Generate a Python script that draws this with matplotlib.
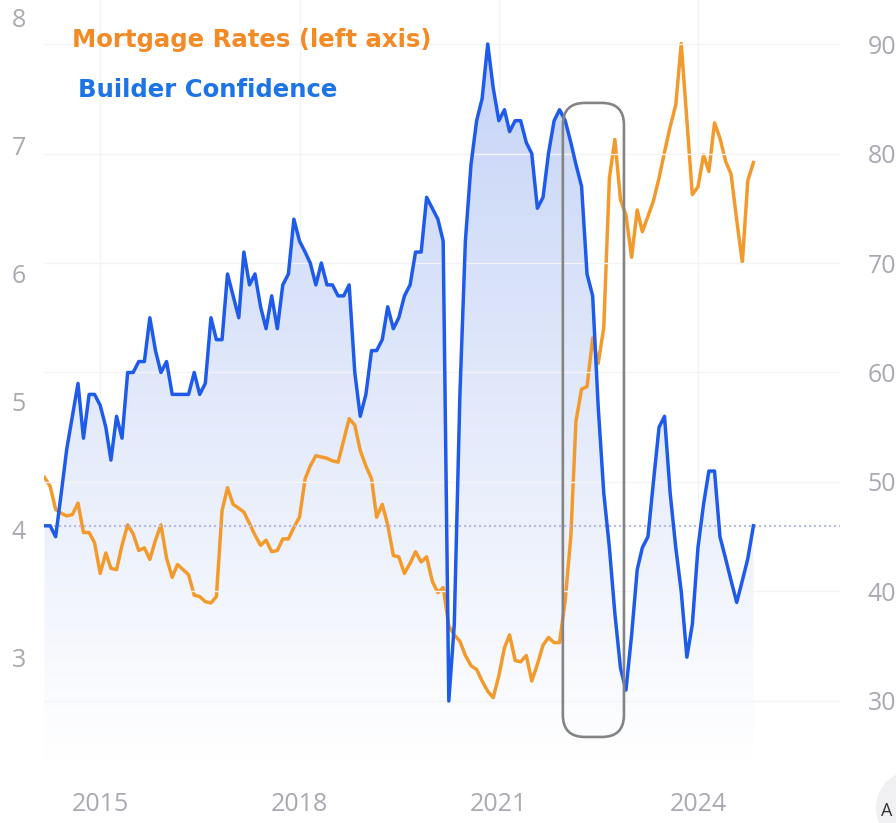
import numpy as np
import pandas as pd
import matplotlib
matplotlib.use("Agg")
import matplotlib.pyplot as plt
import matplotlib.dates as mdates
from matplotlib.patches import FancyBboxPatch, Circle, Polygon
from matplotlib.transforms import IdentityTransform
import matplotlib.colors as mcolors

# ---------------- data ----------------
months = pd.date_range("2014-03-01", "2024-11-01", freq="MS")

mortgage_rates = [
    4.41, 4.34, 4.16, 4.13, 4.11, 4.12, 4.21, 3.98, 3.98, 3.90,                # 2014
    3.66, 3.82, 3.70, 3.69, 3.88, 4.04, 3.97, 3.84, 3.86, 3.77, 3.92, 4.04,    # 2015
    3.78, 3.63, 3.73, 3.69, 3.65, 3.49, 3.48, 3.44, 3.43, 3.48, 4.15, 4.33,    # 2016
    4.20, 4.17, 4.14, 4.05, 3.96, 3.88, 3.92, 3.83, 3.84, 3.93, 3.93, 4.02,    # 2017
    4.10, 4.40, 4.50, 4.58, 4.57, 4.56, 4.54, 4.53, 4.70, 4.87, 4.82, 4.62,    # 2018
    4.50, 4.40, 4.10, 4.20, 4.04, 3.80, 3.79, 3.66, 3.74, 3.83, 3.75, 3.79,    # 2019
    3.60, 3.51, 3.55, 3.25, 3.18, 3.13, 3.02, 2.94, 2.91, 2.82, 2.74, 2.69,    # 2020
    2.86, 3.08, 3.18, 2.98, 2.97, 3.02, 2.82, 2.95, 3.10, 3.16, 3.12, 3.12,    # 2021
    3.45, 3.95, 4.85, 5.10, 5.12, 5.50, 5.30, 5.58, 6.75, 7.05, 6.58, 6.46,    # 2022
    6.13, 6.50, 6.33, 6.45, 6.57, 6.75, 6.95, 7.15, 7.32, 7.80, 7.20, 6.62,    # 2023
    6.68, 6.93, 6.80, 7.18, 7.06, 6.88, 6.78, 6.42, 6.09, 6.73, 6.87,          # 2024
]

builder_confidence = [
    46, 46, 45, 49, 53, 56, 59, 54, 58, 58,                 # 2014
    57, 55, 52, 56, 54, 60, 60, 61, 61, 65, 62, 60,         # 2015
    61, 58, 58, 58, 58, 60, 58, 59, 65, 63, 63, 69,         # 2016
    67, 65, 71, 68, 69, 66, 64, 67, 64, 68, 69, 74,         # 2017
    72, 71, 70, 68, 70, 68, 68, 67, 67, 68, 60, 56,         # 2018
    58, 62, 62, 63, 66, 64, 65, 67, 68, 71, 71, 76,         # 2019
    75, 74, 72, 30, 37, 58, 72, 79, 83, 85, 90, 86,         # 2020
    83, 84, 82, 83, 83, 81, 80, 75, 76, 80, 83, 84,         # 2021
    83, 81, 79, 77, 69, 67, 57, 49, 44, 38, 33, 31,         # 2022
    36, 42, 44, 45, 50, 55, 56, 49, 44, 40, 34, 37,         # 2023
    44, 48, 51, 51, 45, 43, 41, 39, 41, 43, 46,             # 2024
]

year_ticks = [2015, 2018, 2021, 2024]
left_ticks = [3, 4, 5, 6, 7, 8]
right_ticks = [30, 40, 50, 60, 70, 80, 90]
highlight_dates = ["2021-12-19", "2022-11-20"]
highlight_rates = [2.383, 7.336]

series_labels = ["Mortgage Rates (left axis)", "Builder Confidence"]

# ---------------- style ----------------
ORANGE = "#f39a2d"
ORANGE_TXT = "#f28a26"
BLUE = "#1f5bea"
BLUE_TXT = "#1c74e6"
TICK_C = "#a9a9b2"
W, H = 896, 823

fig = plt.figure(figsize=(W / 100, H / 100), dpi=100)
fig.patch.set_facecolor("white")

L, R, B, T = 44, 840, 760, 0
ax = fig.add_axes([L / W, (H - B) / H, (R - L) / W, (B - T) / H])
ax2 = ax.twinx()

x = mdates.date2num(months)

ax.set_xlim(mdates.date2num(pd.Timestamp("2014-02-26")),
            mdates.date2num(pd.Timestamp("2026-02-20")))
ax.set_ylim(2.203, 8.14)
ax2.set_ylim(24.61, 94.02)

for a in (ax, ax2):
    for s in a.spines.values():
        s.set_visible(False)
    a.tick_params(length=0)
ax.patch.set_visible(False)
ax2.patch.set_visible(False)

# faint grid
for yt in right_ticks:
    ax2.axhline(yt, color="#f4f4f7", lw=1.0, zorder=0)
for yr in year_ticks:
    ax.axvline(mdates.date2num(pd.Timestamp(f"{yr}-01-01")), color="#f4f4f7", lw=1.0, zorder=0)

# gradient fill under builder confidence
bottom_val = ax2.get_ylim()[0]
verts = [(x[0], bottom_val)] + list(zip(x, builder_confidence)) + [(x[-1], bottom_val)]
poly = Polygon(verts, closed=True, transform=ax2.transData, facecolor="none", edgecolor="none")
ax.add_patch(poly)
n = 256
g = np.linspace(1.0, 0.0, n)
top = np.array(mcolors.to_rgb("#c2d1f6"))
rgba = np.ones((n, 1, 4))
rgba[:, 0, :3] = 1.0 - (1.0 - top)[None, :] * g[:, None]
im = ax.imshow(rgba, extent=[0, 1, 0, 1], transform=ax.transAxes, aspect="auto",
               zorder=0.5, interpolation="bilinear")
im.set_clip_path(poly)

# mortgage rates line (left axis)
ax.plot(x, mortgage_rates, color=ORANGE, lw=2.5, zorder=2, solid_joinstyle="round")

# builder confidence line (right axis)
ax2.plot(x, builder_confidence, color=BLUE, lw=2.5, zorder=3, solid_joinstyle="round")
ax2.axhline(builder_confidence[-1], color="#b7bbe0", lw=1.5, ls=(0, (1.0, 1.4)), zorder=1)

# ticks
ax.set_xticks([mdates.date2num(pd.Timestamp(f"{y}-01-01")) for y in year_ticks])
ax.set_xticklabels([str(y) for y in year_ticks])
ax.set_yticks(left_ticks)
ax.set_yticklabels([str(v) for v in left_ticks])
ax2.set_yticks(right_ticks)
ax2.set_yticklabels([str(v) for v in right_ticks])

tfam = ["Open Sans", "DejaVu Sans"]
for lab in ax.get_xticklabels() + ax.get_yticklabels() + ax2.get_yticklabels():
    lab.set_fontfamily(tfam)
    lab.set_fontsize(18)
    lab.set_color(TICK_C)
ax.tick_params(axis="x", pad=23)
ax.tick_params(axis="y", pad=13)
ax2.tick_params(axis="y", pad=20)

# highlight box (rounded)
fig.canvas.draw()
p0 = ax.transData.transform((mdates.date2num(pd.Timestamp(highlight_dates[0])), highlight_rates[0]))
p1 = ax.transData.transform((mdates.date2num(pd.Timestamp(highlight_dates[1])), highlight_rates[1]))
box = FancyBboxPatch((p0[0], p0[1]), p1[0] - p0[0], p1[1] - p0[1],
                     boxstyle="round,pad=0,rounding_size=22",
                     transform=IdentityTransform(), facecolor="none",
                     edgecolor="#848484", lw=1.9, zorder=5)
fig.add_artist(box)

# legend texts
fig.text(72 / W, 1 - 47 / H, series_labels[0], color=ORANGE_TXT, fontsize=17.6,
         fontweight="bold", family=["DejaVu Sans"], va="baseline", ha="left")
fig.text(78 / W, 1 - 97 / H, series_labels[1], color=BLUE_TXT, fontsize=17.6,
         fontweight="bold", family=["DejaVu Sans"], va="baseline", ha="left")

# small UI button in the corner
circ = Circle((914, H - 808), 38, transform=IdentityTransform(), facecolor="#f0f0f2",
              edgecolor="none", zorder=6)
fig.add_artist(circ)
fig.text(881 / W, 1 - 816 / H, "A", color="#333333", fontsize=13,
         family=["Open Sans", "DejaVu Sans"], va="baseline", ha="left", zorder=7)

fig.savefig("out.png", dpi=100, facecolor="white")
